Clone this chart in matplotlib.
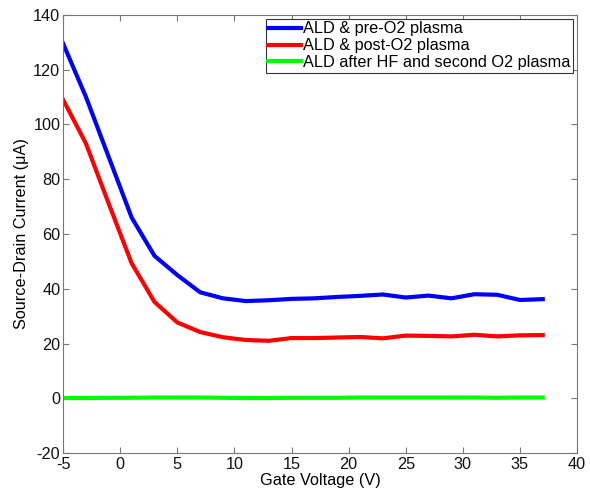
import numpy as np
import matplotlib.pyplot as plt

plt.rcParams['font.family'] = ['Liberation Sans', 'DejaVu Sans']
plt.rcParams['axes.unicode_minus'] = False

# Gate voltage sweep (V)
vg = [-5, -3, -1, 1, 3, 5, 7, 9, 11, 13, 15, 17, 19, 21, 23, 25, 27, 29, 31, 33, 35, 37]

# Source-drain currents (uA)
pre_o2 = [129.5, 110, 88, 66, 52, 45, 38.7, 36.5, 35.5, 35.8, 36.3, 36.5, 37, 37.4, 37.9, 36.8,
          37.5, 36.5, 38, 37.8, 35.9, 36.2]
post_o2 = [109, 93, 71, 49.3, 35.2, 27.7, 24.2, 22.3, 21.3, 21, 22, 22, 22.2, 22.4, 21.9, 22.9,
           22.8, 22.6, 23.2, 22.6, 23, 23.1]
hf_o2 = [0.1, 0.1, 0.2, 0.2, 0.3, 0.3, 0.3, 0.2, 0.1, 0.1, 0.2, 0.2, 0.2, 0.3, 0.3, 0.3,
         0.3, 0.3, 0.3, 0.2, 0.3, 0.3]

fs = 11.7
fig = plt.figure(figsize=(5.9, 4.92), dpi=100)
ax = fig.add_axes([0.107, 0.079, 0.871, 0.891])

ax.plot(vg, pre_o2, color='#0000ff', lw=3, label='ALD & pre-O2 plasma')
ax.plot(vg, post_o2, color='#ff0000', lw=3, label='ALD & post-O2 plasma')
ax.plot(vg, hf_o2, color='#00ff00', lw=3, label='ALD after HF and second O2 plasma')

ax.set_xlim(-5, 40)
ax.set_ylim(-20, 140)
ax.set_xticks(np.arange(-5, 41, 5))
ax.set_yticks(np.arange(-20, 141, 20))
ax.tick_params(direction='in', top=True, right=True, labelsize=fs, colors='#777777',
               labelcolor='#111111', length=4, pad=2)
ax.tick_params(axis='x', pad=3)
for s in ax.spines.values():
    s.set_color('#777777')
ax.set_xlabel('Gate Voltage (V)', fontsize=fs, labelpad=0.5)
ax.set_ylabel('Source-Drain Current (\u03bcA)', fontsize=fs, labelpad=3)

leg = ax.legend(loc='upper right', fontsize=fs, handlelength=2.0, handletextpad=0.15,
                borderaxespad=0.25, borderpad=0.15, labelspacing=0.12, fancybox=False,
                framealpha=1)
leg.get_frame().set_edgecolor('#333333')
leg.get_frame().set_linewidth(0.8)

fig.savefig('out.png', dpi=100)
